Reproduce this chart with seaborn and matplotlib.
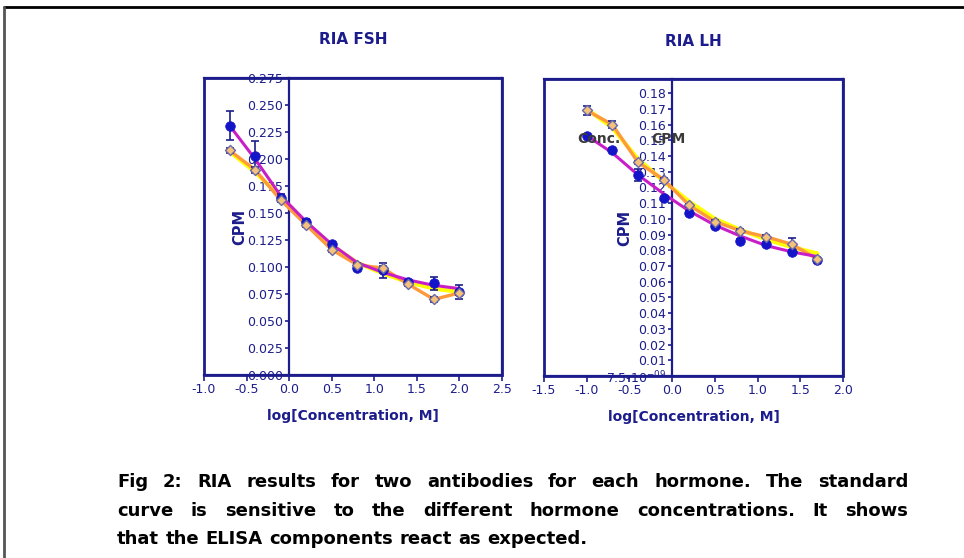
import numpy as np
import pandas as pd
import matplotlib
matplotlib.use("Agg")
import matplotlib.pyplot as plt
import seaborn as sns
from matplotlib.patches import Rectangle
from matplotlib.lines import Line2D

# ---------------- data ----------------
fsh_x = [-0.7, -0.4, -0.1, 0.2, 0.5, 0.8, 1.1, 1.4, 1.7, 2.0]
fsh_ab1 = [0.231, 0.203, 0.164, 0.142, 0.121, 0.099, 0.097, 0.086, 0.085, 0.077]
fsh_ab1_err = [0.0135, 0.014, 0.004, 0.002, 0.002, 0.002, 0.007, 0.002, 0.006, 0.0065]
fsh_ab2 = [0.208, 0.190, 0.162, 0.139, 0.116, 0.102, 0.099, 0.084, 0.070, 0.076]
fsh_ab2_err = [0.002, 0.003, 0.002, 0.002, 0.002, 0.002, 0.002, 0.002, 0.002, 0.002]
fsh_fit1 = [0.231, 0.200, 0.166, 0.142, 0.121, 0.104, 0.095, 0.088, 0.083, 0.080]
fsh_fit2 = [0.207, 0.188, 0.165, 0.141, 0.120, 0.104, 0.094, 0.086, 0.080, 0.077]

lh_x = [-1.0, -0.7, -0.4, -0.1, 0.2, 0.5, 0.8, 1.1, 1.4, 1.7]
lh_ab1 = [0.153, 0.144, 0.128, 0.113, 0.104, 0.0955, 0.086, 0.084, 0.079, 0.074]
lh_ab1_err = [0.001, 0.001, 0.0037, 0.001, 0.001, 0.001, 0.001, 0.001, 0.001, 0.001]
lh_ab2 = [0.169, 0.160, 0.136, 0.125, 0.1086, 0.0983, 0.0924, 0.0886, 0.0839, 0.0744]
lh_ab2_err = [0.0027, 0.0022, 0.001, 0.001, 0.001, 0.001, 0.001, 0.001, 0.004, 0.001]
lh_fit1 = [0.153, 0.142, 0.128, 0.116, 0.105, 0.096, 0.089, 0.083, 0.079, 0.076]
lh_fit2 = [0.170, 0.158, 0.138, 0.124, 0.111, 0.100, 0.093, 0.087, 0.082, 0.078]

fsh_xticks = [-1.0, -0.5, 0.0, 0.5, 1.0, 1.5, 2.0, 2.5]
fsh_yticks = [0.000, 0.025, 0.050, 0.075, 0.100, 0.125, 0.150, 0.175, 0.200, 0.225, 0.250, 0.275]
lh_xticks = [-1.5, -1.0, -0.5, 0.0, 0.5, 1.0, 1.5, 2.0]
lh_yticks = [0.0, 0.01, 0.02, 0.03, 0.04, 0.05, 0.06, 0.07, 0.08, 0.09, 0.10,
             0.11, 0.12, 0.13, 0.14, 0.15, 0.16, 0.17, 0.18]

titles = ["RIA FSH", "RIA LH"]
xlabel = "log[Concentration, M]"
ylabel = "CPM"
caption_lines = [
    "Fig 2: RIA results for two antibodies for each hormone. The standard",
    "curve is sensitive to the different hormone concentrations. It shows",
    "that the ELISA components react as expected.",
]

# ---------------- style ----------------
sns.set_theme(style="white")
plt.rcParams["font.family"] = ["DejaVu Sans"]
NAVY = "#1c1c8c"
BLUE = "#1414c8"
MAGENTA = "#c81ec8"
YELLOW = "#ffff00"
ORANGE = "#ff9a3c"

W, H = 964, 558
fig = plt.figure(figsize=(W / 100, H / 100), dpi=100)
fig.patch.set_facecolor("white")


def px_axes(l, t, r, b):
    return fig.add_axes([l / W, 1 - b / H, (r - l) / W, (b - t) / H])


def draw_panel(ax, x, ab1, ab1e, ab2, ab2e, fit1, fit2, xlim, ylim, xticks, yticks, ylabels, title, title_xy, ylab_x):
    ax.set_facecolor("white")
    sns.lineplot(x=x, y=fit2, ax=ax, color=YELLOW, lw=3.0, estimator=None, sort=False, zorder=2)
    sns.lineplot(x=x, y=ab2, ax=ax, color=ORANGE, lw=2.4, estimator=None, sort=False, zorder=3)
    sns.lineplot(x=x, y=fit1, ax=ax, color=MAGENTA, lw=2.2, estimator=None, sort=False, zorder=3)
    ax.errorbar(x, ab1, yerr=ab1e, fmt="none", ecolor=NAVY, elinewidth=1.2, capsize=3, capthick=1.2, zorder=4)
    ax.errorbar(x, ab2, yerr=ab2e, fmt="none", ecolor=NAVY, elinewidth=1.2, capsize=3, capthick=1.2, zorder=4)
    sns.scatterplot(x=x, y=ab1, ax=ax, marker="o", s=48, color=BLUE, edgecolor=BLUE, linewidth=0.5, zorder=5)
    sns.scatterplot(x=x, y=ab2, ax=ax, marker="D", s=26, color="#f6c27a", edgecolor="#6a6aa8", linewidth=1.0, zorder=6)

    ax.set_xlim(*xlim)
    ax.set_ylim(*ylim)
    ax.set_xticks(xticks)
    ax.set_xticklabels([f"{v:.1f}" for v in xticks])
    ax.set_yticks(yticks)
    ax.set_yticklabels(ylabels)
    for s in ax.spines.values():
        s.set_color(NAVY)
        s.set_linewidth(1.6)
        s.set_visible(True)
    ax.spines["left"].set_position(("data", 0.0))
    ax.add_patch(Rectangle((0, 0), 1, 1, transform=ax.transAxes, fill=False,
                           edgecolor=NAVY, lw=2.0, zorder=1, clip_on=False))
    ax.tick_params(axis="x", which="both", bottom=True, direction="out", length=4, width=1.2,
                   color=NAVY, labelcolor=NAVY, labelsize=9, pad=2)
    ax.tick_params(axis="y", which="both", left=True, direction="out", length=3, width=1.2,
                   color=NAVY, labelcolor=NAVY, labelsize=9, pad=1.5)
    ax.set_xlabel(xlabel, color=NAVY, fontsize=10, fontweight="bold", labelpad=9)
    ax.set_ylabel(ylabel, color=NAVY, fontsize=10.5, fontweight="bold")
    ax.yaxis.set_label_coords(ylab_x, 0.5)
    fig.text(title_xy[0] / W, 1 - title_xy[1] / H, title, ha="center", va="center",
             color=NAVY, fontsize=11, fontweight="bold")


ax1 = px_axes(204, 78, 502, 375)
draw_panel(ax1, fsh_x, fsh_ab1, fsh_ab1_err, fsh_ab2, fsh_ab2_err, fsh_fit1, fsh_fit2,
           (-1.0, 2.5), (0.0, 0.275), fsh_xticks, fsh_yticks,
           [f"{v:.3f}" for v in fsh_yticks], titles[0], (353, 40), 0.145)

ax2 = px_axes(544, 79, 843, 376)
draw_panel(ax2, lh_x, lh_ab1, lh_ab1_err, lh_ab2, lh_ab2_err, lh_fit1, lh_fit2,
           (-1.5, 2.0), (0.0, 0.189), lh_xticks, lh_yticks,
           ["7.5-10$^{-09}$"] + [f"{v:.2f}" for v in lh_yticks[1:]], titles[1], (693, 42), 0.295)

# overlapping "Conc.  CPM" header text in the LH panel
fig.text(577 / W, 1 - 139 / H, "Conc.", ha="left", va="center", color="#3a3a3a",
         fontsize=10, fontweight="bold", zorder=10)
fig.text(651 / W, 1 - 139 / H, "CPM", ha="left", va="center", color="#3a3a3a",
         fontsize=10, fontweight="bold", zorder=10)

# page frame lines
fig.add_artist(Line2D([4 / W, 1.0], [1 - 7 / H, 1 - 7 / H], transform=fig.transFigure, color="black", lw=2))
fig.add_artist(Line2D([4 / W, 4 / W], [0.0, 1 - 7 / H], transform=fig.transFigure, color="#555555", lw=2))

# justified caption
renderer = fig.canvas.get_renderer()
left_px, right_px = 117, 908
line_y = [482, 511, 539]
for i, line in enumerate(caption_lines):
    words = line.split(" ")
    texts = [fig.text(0, 0, w, fontsize=13, fontweight="bold", color="black",
                      ha="left", va="center") for w in words]
    widths = [t.get_window_extent(renderer).width for t in texts]
    gap = (right_px - left_px - sum(widths)) / (len(words) - 1)
    if i == len(caption_lines) - 1:
        gap = min(gap, 6.5)
    xcur = left_px
    for t, w in zip(texts, widths):
        t.set_position((xcur / W, 1 - line_y[i] / H))
        xcur += w + gap

fig.savefig("out.png", dpi=100, facecolor="white")
